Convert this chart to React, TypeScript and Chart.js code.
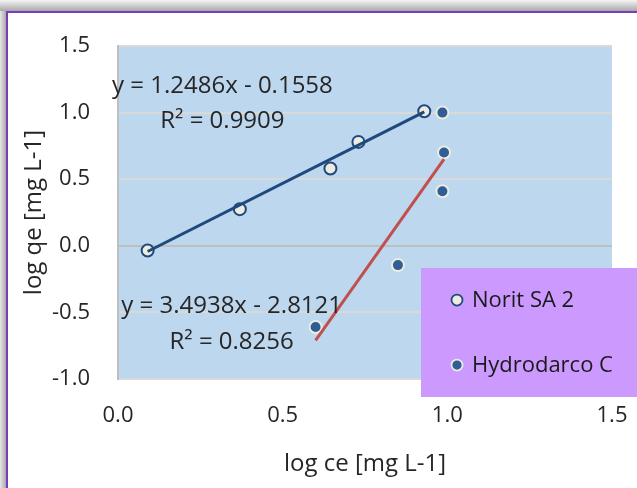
import React, { useEffect, useRef } from "react";
import { Chart, registerables } from "chart.js";

Chart.register(...registerables);

// ---- data ----
const seriesNames = ["Norit SA 2", "Hydrodarco C"];
const noritX = [0.09, 0.37, 0.645, 0.73, 0.93];
const noritY = [-0.035, 0.275, 0.58, 0.78, 1.01];
const hydroX = [0.985, 0.99, 0.985, 0.85, 0.6];
const hydroY = [1.0, 0.7, 0.41, -0.145, -0.61];
const noritTrendX = [0.09, 0.93];
const noritTrendY = [-0.043, 1.005];
const hydroTrendX = [0.6, 0.99];
const hydroTrendY = [-0.71, 0.65];
const noritEquation = ["y = 1.2486x - 0.1558", "R² = 0.9909"];
const hydroEquation = ["y = 3.4938x - 2.8121", "R² = 0.8256"];
const xTitle = "log ce [mg L-1]";
const yTitle = "log qe [mg L-1]";

const FONT = "'Open Sans', 'Noto Sans', sans-serif";
const TEXT = "#262626";
const NAVY = "#1F497D";
const CREAM = "#EEECE1";
const DOT = "#2F5D95";
const RED = "#C0504D";

const toPts = (xs: number[], ys: number[]) => xs.map((x, i) => ({ x, y: ys[i] }));

const decor = {
  id: "decor",
  beforeDraw(chart: any) {
    const { ctx, width, height, chartArea } = chart;
    ctx.save();
    const gTop = ctx.createLinearGradient(0, 0, 0, 11);
    gTop.addColorStop(0, "#F4F4F4");
    gTop.addColorStop(1, "#A9A9A9");
    ctx.fillStyle = gTop;
    ctx.fillRect(0, 0, width, 11);
    const gLeft = ctx.createLinearGradient(0, 0, 6, 0);
    gLeft.addColorStop(0, "#E6E6E6");
    gLeft.addColorStop(1, "#A9A9A9");
    ctx.fillStyle = gLeft;
    ctx.fillRect(0, 11, 6, height - 11);
    ctx.fillStyle = "#FFFFFF";
    ctx.fillRect(6, 11, width - 6, height - 11);
    ctx.fillStyle = "#7A3DB8";
    ctx.fillRect(6, 11, width - 6, 2);
    ctx.fillRect(6, 11, 2, height - 11);
    ctx.fillStyle = "#BDD7EE";
    ctx.fillRect(chartArea.left, chartArea.top, chartArea.right - chartArea.left, chartArea.bottom - chartArea.top);
    ctx.restore();
  },
};

const equations = {
  id: "equations",
  afterDatasetsDraw(chart: any) {
    const { ctx, scales } = chart;
    const xs = scales.x;
    const ys = scales.y;
    ctx.save();
    ctx.font = `24px ${FONT}`;
    ctx.fillStyle = TEXT;
    ctx.textAlign = "center";
    ctx.textBaseline = "alphabetic";
    const draw = (lines: string[], cx: number, baselines: number[]) => {
      lines.forEach((t, i) => ctx.fillText(t, xs.getPixelForValue(cx), ys.getPixelForValue(baselines[i])));
    };
    draw(noritEquation, 0.317, [1.1475, 0.885]);
    draw(hydroEquation, 0.345, [-0.5025, -0.7725]);
    ctx.restore();
  },
};

const legendBox = {
  id: "legendBox",
  afterDraw(chart: any) {
    const { ctx, width } = chart;
    ctx.save();
    ctx.fillStyle = "#CC99FF";
    ctx.fillRect(421, 268, width - 421, 129);
    const items = [
      { name: seriesNames[0], fill: CREAM, stroke: NAVY, y: 300 },
      { name: seriesNames[1], fill: DOT, stroke: CREAM, y: 365 },
    ];
    ctx.font = `22px ${FONT}`;
    ctx.textAlign = "left";
    ctx.textBaseline = "middle";
    items.forEach((it) => {
      ctx.beginPath();
      ctx.arc(457, it.y, 5.5, 0, Math.PI * 2);
      ctx.fillStyle = it.fill;
      ctx.fill();
      ctx.lineWidth = 1.75;
      ctx.strokeStyle = it.stroke;
      ctx.stroke();
      ctx.fillStyle = "#1A1A1A";
      ctx.fillText(it.name, 472, it.y + 1);
    });
    ctx.restore();
  },
};

export default function App() {
  const ref = useRef<HTMLCanvasElement | null>(null);
  useEffect(() => {
    if (!ref.current) return;
    const chart = new Chart(ref.current, {
      type: "scatter",
      data: {
        datasets: [
          {
            label: "trend1",
            data: toPts(noritTrendX, noritTrendY),
            showLine: true,
            borderColor: NAVY,
            borderWidth: 3,
            pointRadius: 0,
            pointHoverRadius: 0,
          },
          {
            label: "trend2",
            data: toPts(hydroTrendX, hydroTrendY),
            showLine: true,
            borderColor: RED,
            borderWidth: 3,
            pointRadius: 0,
            pointHoverRadius: 0,
          },
          {
            label: seriesNames[0],
            data: toPts(noritX, noritY),
            backgroundColor: CREAM,
            borderColor: NAVY,
            borderWidth: 2,
            pointRadius: 6,
          },
          {
            label: seriesNames[1],
            data: toPts(hydroX, hydroY),
            backgroundColor: DOT,
            borderColor: CREAM,
            borderWidth: 2,
            pointRadius: 6,
          },
        ],
      },
      options: {
        animation: false,
        responsive: false,
        devicePixelRatio: 1,
        layout: { padding: { left: 0, top: 46, right: 25, bottom: 0 } },
        plugins: { legend: { display: false }, tooltip: { enabled: false } },
        scales: {
          x: {
            type: "linear",
            min: 0,
            max: 1.5,
            afterFit: (s: any) => {
              s.height = 109;
              s.paddingLeft = 0;
              s.paddingRight = 0;
            },
            ticks: {
              stepSize: 0.5,
              padding: 24,
              color: TEXT,
              font: { family: FONT, size: 22 },
              callback: (v: any) => Number(v).toFixed(1),
            },
            grid: { display: false, drawTicks: false },
            border: { display: false },
            title: {
              display: true,
              text: xTitle,
              color: TEXT,
              font: { family: FONT, size: 24 },
              padding: { top: 0, bottom: 9 },
            },
          },
          y: {
            type: "linear",
            min: -1,
            max: 1.5,
            afterFit: (s: any) => {
              s.width = 118;
              s.paddingTop = 0;
              s.paddingBottom = 0;
            },
            ticks: {
              stepSize: 0.5,
              padding: 28,
              color: TEXT,
              font: { family: FONT, size: 22 },
              callback: (v: any) => Number(v).toFixed(1),
            },
            grid: {
              drawTicks: false,
              lineWidth: 2,
              color: (c: any) => (c.tick && c.tick.value === 0 ? "#BFBFBF" : "#D9D9D9"),
            },
            border: { display: true, color: "#BFBFBF", width: 2 },
            title: {
              display: true,
              text: yTitle,
              color: TEXT,
              font: { family: FONT, size: 24 },
              padding: { top: 20, bottom: 0 },
            },
          },
        },
      },
      plugins: [decor, equations, legendBox],
    } as any);
    return () => chart.destroy();
  }, []);
  return (
    <div style={{ position: "absolute", left: 0, top: 0, width: 637, height: 488 }}>
      <canvas ref={ref} width={637} height={488} style={{ display: "block" }} />
    </div>
  );
}
